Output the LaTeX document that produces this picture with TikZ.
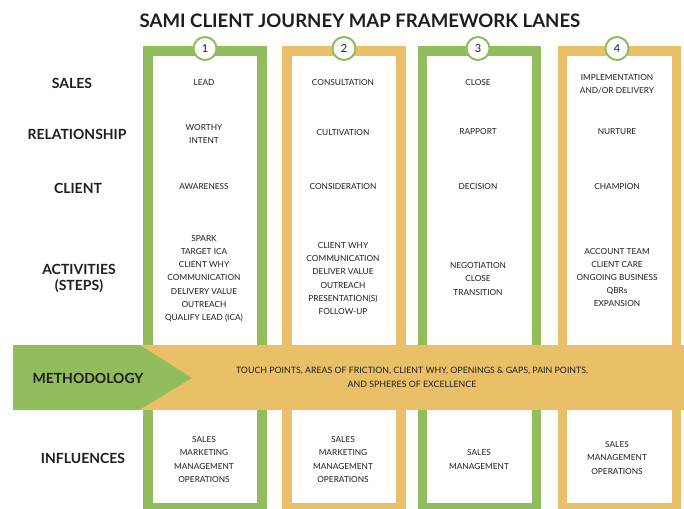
\documentclass[tikz,border=0pt]{standalone}
\usepackage{fontspec}
\setmainfont{Lato}
\begin{document}
\definecolor{lanegreen}{RGB}{146,189,92}
\definecolor{laneorange}{RGB}{233,192,104}
\definecolor{ink}{RGB}{30,30,30}
\begin{tikzpicture}[x=1pt,y=-1pt,
  lanebox/.style={draw=#1, line width=9.5pt, fill=white, minimum width=114pt, minimum height=457pt, inner sep=0pt},
  numdot/.style={circle, draw=lanegreen, line width=2pt, fill=white, minimum size=23pt, inner sep=0pt, font=\fontsize{11}{11}\selectfont, text=ink},
  rowhead/.style={font=\fontsize{14}{16}\selectfont\bfseries, text=ink, align=center},
  cell/.style={font=\fontsize{8.3}{13.2}\selectfont, text=ink, align=center},
  bandtext/.style={font=\fontsize{8.8}{14}\selectfont, text=ink, align=center}]
\useasboundingbox (0,0) rectangle (684,508);
\clip (0,0) rectangle (684,508);
\fill[white] (0,0) rectangle (684,508);

% title
\node[font=\fontsize{18.6}{20}\selectfont\bfseries, text=ink] (title) at (360,21) {SAMI CLIENT JOURNEY MAP FRAMEWORK LANES};

% four lanes
\node[lanebox=lanegreen]  (lane1) at (205,279.5) {};
\node[lanebox=laneorange] (lane2) at (344,279.5) {};
\node[lanebox=lanegreen]  (lane3) at (479.5,279.5) {};
\node[lanebox=laneorange] (lane4) at (619.5,279.5) {};

% lane numbers
\node[numdot] (n1) at (205,48.5) {1};
\node[numdot] (n2) at (344,48.5) {2};
\node[numdot] (n3) at (478,48.5) {3};
\node[numdot] (n4) at (617,48.5) {4};

% row headings
\node[rowhead] (hsales) at (72,83) {SALES};
\node[rowhead] (hrel) at (77,134) {RELATIONSHIP};
\node[rowhead] (hclient) at (78,188) {CLIENT};
\node[rowhead] (hact) at (79,278.5) {ACTIVITIES\\(STEPS)};
\node[rowhead] (hinf) at (83,458) {INFLUENCES};

% sales row
\node[cell] (s1) at (204,83) {LEAD};
\node[cell] (s2) at (343,83) {CONSULTATION};
\node[cell] (s3) at (478,83) {CLOSE};
\node[cell] (s4) at (617,84) {IMPLEMENTATION\\AND/OR DELIVERY};

% relationship row
\node[cell] (r1) at (204,134) {WORTHY\\INTENT};
\node[cell] (r2) at (343,133) {CULTIVATION};
\node[cell] (r3) at (478,132) {RAPPORT};
\node[cell] (r4) at (617,132) {NURTURE};

% client row
\node[cell] (c1) at (204,187) {AWARENESS};
\node[cell] (c2) at (343,187) {CONSIDERATION};
\node[cell] (c3) at (478,187) {DECISION};
\node[cell] (c4) at (617,187) {CHAMPION};

% activities row
\node[cell] (a1) at (204,278.5) {SPARK\\TARGET ICA\\CLIENT WHY\\COMMUNICATION\\DELIVERY VALUE\\OUTREACH\\QUALIFY LEAD (ICA)};
\node[cell] (a2) at (343,278.5) {CLIENT WHY\\COMMUNICATION\\DELIVER VALUE\\OUTREACH\\PRESENTATION(S)\\FOLLOW-UP};
\node[cell] (a3) at (478,279) {NEGOTIATION\\CLOSE\\TRANSITION};
\node[cell] (a4) at (617,277.5) {ACCOUNT TEAM\\CLIENT CARE\\ONGOING BUSINESS\\QBRs\\EXPANSION};

% methodology band across all lanes
\fill[laneorange] (140,345) rectangle (684,410);
\fill[lanegreen] (13,345) -- (140,345) -- (192,378) -- (139,410) -- (13,410) -- cycle;
\node[rowhead] (hmeth) at (88,378) {METHODOLOGY};
\node[bandtext] (mtext) at (412,377) {TOUCH POINTS, AREAS OF FRICTION, CLIENT WHY, OPENINGS \& GAPS, PAIN POINTS,\\AND SPHERES OF EXCELLENCE};

% influences row
\node[cell] (i1) at (204,459.5) {SALES\\MARKETING\\MANAGEMENT\\OPERATIONS};
\node[cell] (i2) at (343,459.5) {SALES\\MARKETING\\MANAGEMENT\\OPERATIONS};
\node[cell] (i3) at (479,459.5) {SALES\\MANAGEMENT};
\node[cell] (i4) at (617,458) {SALES\\MANAGEMENT\\OPERATIONS};
\end{tikzpicture}
\end{document}
